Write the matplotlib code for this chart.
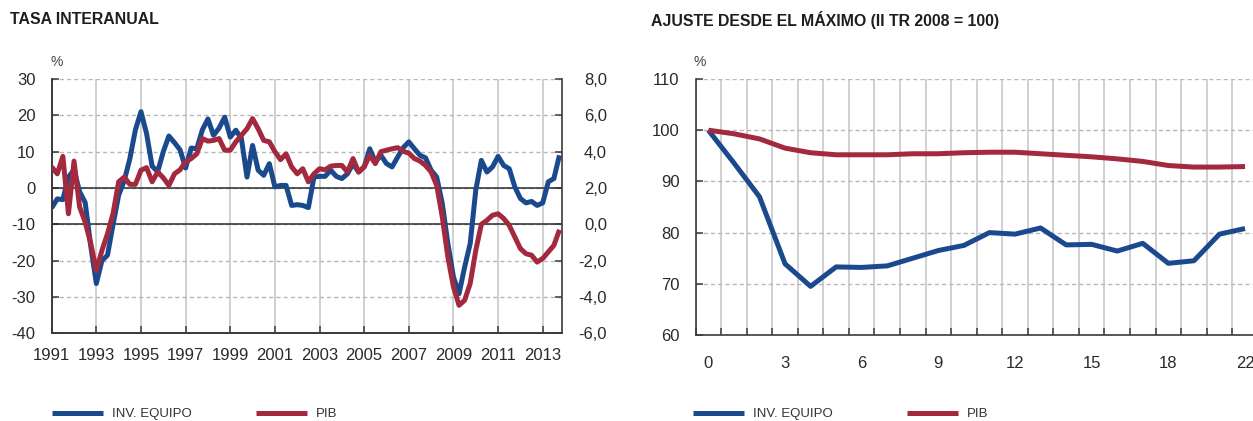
import numpy as np
import matplotlib
matplotlib.use("Agg")
import matplotlib.pyplot as plt

plt.rcParams['font.family'] = ['Liberation Sans', 'DejaVu Sans']
plt.rcParams['axes.unicode_minus'] = False

# ===============================
# Data
# ===============================
# quarterly, 1991 Q1 .. 2013 Q4
quarters = np.arange(1991, 2014, 0.25)

inv_equipo_yoy = [
    -5.5, -3.0, -3.2, 3.0, 5.0, -1.0, -4.0, -16.0,
    -26.3, -20.0, -18.5, -10.0, -2.0, 2.0, 8.0, 16.0,
    21.0, 15.0, 6.0, 4.5, 10.0, 14.3, 12.5, 10.5,
    5.5, 11.0, 10.8, 16.0, 19.0, 14.5, 16.5, 19.5,
    14.0, 15.9, 13.6, 3.0, 11.7, 4.9, 3.5, 6.7,
    0.3, 0.7, 0.7, -4.8, -4.6, -4.8, -5.4, 3.0,
    3.2, 3.2, 4.9, 3.2, 2.6, 3.9, 6.7, 4.4,
    5.8, 10.8, 7.2, 9.0, 6.7, 5.8, 8.5, 11.1,
    12.7, 10.8, 9.0, 8.3, 4.9, 3.0, -4.3, -15.3,
    -24.5, -29.1, -21.8, -15.3, -0.6, 7.6, 4.4, 5.8,
    8.7, 6.2, 5.3, 0.3, -2.9, -4.1, -3.7, -4.8,
    -4.1, 1.7, 2.6, 9.0,
]

pib_yoy = [
    3.16, 2.78, 3.74, 0.58, 3.48, 0.96, 0.12, -1.06,
    -2.54, -1.44, -0.52, 0.60, 2.34, 2.60, 2.20, 2.20,
    2.98, 3.12, 2.34, 2.88, 2.56, 2.14, 2.78, 3.00,
    3.44, 3.62, 3.88, 4.72, 4.58, 4.62, 4.72, 4.08,
    4.08, 4.54, 4.90, 5.26, 5.82, 5.26, 4.62, 4.54,
    4.00, 3.56, 3.88, 3.16, 2.78, 3.06, 2.34, 2.78,
    3.06, 3.00, 3.20, 3.24, 3.24, 2.88, 3.62, 2.88,
    3.16, 3.80, 3.34, 4.00, 4.08, 4.16, 4.22, 4.02,
    3.92, 3.62, 3.48, 3.24, 2.88, 2.14, 0.40, -1.80,
    -3.44, -4.46, -4.18, -3.26, -1.44, 0.00, 0.22, 0.50,
    0.58, 0.32, -0.06, -0.70, -1.34, -1.62, -1.70, -2.08,
    -1.88, -1.52, -1.16, -0.30,
]

# quarters since the peak (II TR 2008 = 100)
adj_quarters = np.arange(22)
inv_equipo_idx = [
    100.0, 93.6, 87.0, 73.9, 69.5, 73.3, 73.2, 73.5, 75.0, 76.5, 77.5,
    80.0, 79.7, 80.9, 77.6, 77.7, 76.4, 77.9, 74.0, 74.5, 79.7, 80.8,
]
pib_idx = [
    100.0, 99.3, 98.3, 96.5, 95.6, 95.2, 95.2, 95.2, 95.4, 95.4, 95.6,
    95.7, 95.7, 95.4, 95.1, 94.8, 94.4, 93.9, 93.1, 92.8, 92.8, 92.9,
]
adj_tick_pos = [0, 3, 6, 9, 12, 15, 18, 21]
adj_tick_labels = ["0", "3", "6", "9", "12", "15", "18", "22"]

left_ticks = [30, 20, 10, 0, -10, -20, -30, -40]
right_ticks = [8, 6, 4, 2, 0, -2, -4, -6]
year_ticks = list(range(1991, 2014, 2))

BLUE = "#1a4a8d"
RED = "#a3293f"
DARK = "#2a2a2a"
GRID = "#c4c4c4"
DASH = "#b8b8b8"

W, H = 1253, 421


def frac_box(x0, y0, x1, y1):
    return [x0 / W, 1 - y1 / H, (x1 - x0) / W, (y1 - y0) / H]


fig = plt.figure(figsize=(W / 100, H / 100), dpi=100)

# ===============================
# Left: TASA INTERANUAL
# ===============================
ax1 = fig.add_axes(frac_box(51.7, 79, 561.7, 333.3))
ax2 = ax1.twinx()

ax1.set_xlim(1991, 2013.85)
ax1.set_ylim(-40, 30)
ax2.set_ylim(-6, 8)

ax1.set_xticks(year_ticks)
ax1.set_xticklabels([str(y) for y in year_ticks])
ax1.set_yticks(left_ticks)
ax1.set_yticklabels([str(v) for v in left_ticks])
ax2.set_yticks(right_ticks)
ax2.set_yticklabels([f"{v:.1f}".replace(".", ",") for v in right_ticks], ha="right")

ax1.grid(axis="x", color=GRID, lw=1.1)
ax1.grid(axis="y", color=DASH, lw=1.0, ls=(0, (3, 2.2)))
ax1.set_axisbelow(True)
ax1.axhline(0, color=DARK, lw=1.1, zorder=1.5)
ax1.axhline(-10, color=DARK, lw=1.1, zorder=1.5)

ax1.plot(quarters, inv_equipo_yoy, color=BLUE, lw=3.6, solid_capstyle="butt", zorder=3)
ax2.plot(quarters, pib_yoy, color=RED, lw=3.6, solid_capstyle="butt", zorder=3)

for a in (ax1, ax2):
    a.spines["top"].set_visible(False)
    for s in a.spines.values():
        s.set_color("#3a3a3a")
        s.set_linewidth(1.2)
ax1.spines["right"].set_visible(False)

ax1.tick_params(axis="x", direction="in", length=5, width=1.1, color="#3a3a3a",
                labelsize=12, labelcolor=DARK, pad=10.5)
ax1.tick_params(axis="y", direction="in", length=5, width=1.1, color="#3a3a3a",
                labelsize=12, labelcolor=DARK, pad=11.5)
ax2.tick_params(axis="y", direction="in", length=5, width=1.1, color="#3a3a3a",
                labelsize=12, labelcolor=DARK, pad=32.6)

# ===============================
# Right: AJUSTE DESDE EL MAXIMO
# ===============================
ax3 = fig.add_axes(frac_box(695.6, 79, 1257.8, 335))
ax3.set_xlim(-0.5, 21.5)
ax3.set_ylim(60, 110)
ax3.set_xticks(adj_tick_pos)
ax3.set_xticklabels(adj_tick_labels)
ax3.set_xticks(np.arange(-0.5, 22, 1), minor=True)
ax3.set_yticks(range(60, 111, 10))

ax3.grid(axis="x", which="minor", color=GRID, lw=1.1)
ax3.grid(axis="y", which="major", color=DASH, lw=1.0, ls=(0, (3, 2.2)))
ax3.set_axisbelow(True)

ax3.plot(adj_quarters, inv_equipo_idx, color=BLUE, lw=3.6, solid_capstyle="butt", zorder=3)
ax3.plot(adj_quarters, pib_idx, color=RED, lw=3.6, solid_capstyle="butt", zorder=3)

ax3.spines["top"].set_visible(False)
ax3.spines["right"].set_visible(False)
for s in ("left", "bottom"):
    ax3.spines[s].set_color("#3a3a3a")
    ax3.spines[s].set_linewidth(1.2)

ax3.tick_params(axis="x", which="major", length=0, labelsize=12, labelcolor=DARK, pad=15)
ax3.tick_params(axis="x", which="minor", direction="in", length=5, width=1.1, color="#3a3a3a")
ax3.tick_params(axis="y", direction="in", length=5, width=1.1, color="#3a3a3a",
                labelsize=12, labelcolor=DARK, pad=11.5)

# ===============================
# Titles, units, legends
# ===============================
fig.text(10 / W, 1 - 20 / H, "TASA INTERANUAL", fontsize=11.4, weight="bold",
         color="#1e1e1e", va="center", ha="left")
fig.text(651 / W, 1 - 20 / H, "AJUSTE DESDE EL MÁXIMO (II TR 2008 = 100)", fontsize=11.4,
         weight="bold", color="#1e1e1e", va="center", ha="left")
fig.text(57 / W, 1 - 62 / H, "%", fontsize=10, color="#444444", ha="center", va="center")
fig.text(700 / W, 1 - 62 / H, "%", fontsize=10, color="#444444", ha="center", va="center")

legend_labels = ["INV. EQUIPO", "PIB"]
for x0, colsp in ((52, 4.9), (693, 5.66)):
    handles = [plt.Line2D([], [], color=BLUE, lw=3.6, solid_capstyle="butt"),
               plt.Line2D([], [], color=RED, lw=3.6, solid_capstyle="butt")]
    fig.legend(handles, legend_labels, loc="center left",
               bbox_to_anchor=(x0 / W, 1 - 414 / H), ncol=2, frameon=False,
               borderpad=0, borderaxespad=0, handlelength=3.86, handletextpad=0.68,
               columnspacing=colsp,
               prop={"family": ["Liberation Sans"], "size": 9.5},
               labelcolor="#333333")

fig.savefig("out.png", dpi=100)
